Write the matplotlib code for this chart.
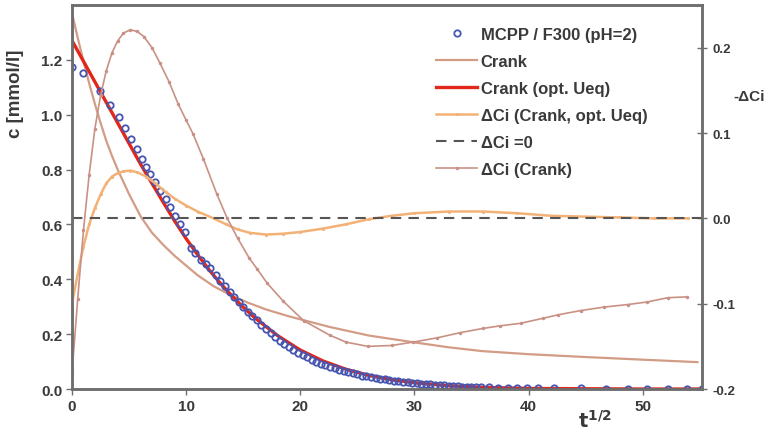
import matplotlib
matplotlib.use("Agg")
import matplotlib.pyplot as plt

plt.rcParams["font.family"] = ["Liberation Sans", "DejaVu Sans"]
plt.rcParams["font.weight"] = "bold"

# measured data MCPP / F300 (pH=2): sqrt(t) and c [mmol/l]
t_meas = [0, 0.97, 2.45, 3.33, 4.1, 4.65, 5.2, 5.7, 6.1, 6.5, 6.85, 7.3, 7.7, 8.2, 8.6, 9.0, 9.5, 9.9,
          10.4, 10.8, 11.3, 11.7, 12.1, 12.6, 13.0, 13.4, 13.8, 14.2, 14.6, 15.0, 15.4, 15.8, 16.2, 16.6,
          17.0, 17.4, 17.8, 18.2, 18.6, 19.0, 19.4, 19.8, 20.2, 20.6, 21.0, 21.4, 21.8, 22.2, 22.6, 23.0,
          23.4, 23.8, 24.2, 24.6, 25.0, 25.4, 25.8, 26.2, 26.6, 27.0, 27.4, 27.8, 28.2, 28.6, 29.0, 29.4,
          29.8, 30.2, 30.6, 31.0, 31.4, 31.8, 32.2, 32.6, 33.0, 33.4, 33.8, 34.2, 34.6, 35.0, 35.4, 35.8,
          36.5, 37.3, 38.2, 39.0, 39.9, 40.8, 42.2, 44.6, 46.8, 48.7, 50.4, 52.2, 53.9, 55.2]
c_meas = [1.175, 1.153, 1.085, 1.037, 0.99, 0.95, 0.912, 0.876, 0.84, 0.81, 0.785, 0.755, 0.723, 0.693,
          0.664, 0.63, 0.6, 0.573, 0.515, 0.495, 0.47, 0.455, 0.44, 0.415, 0.395, 0.375, 0.355, 0.335,
          0.318, 0.3, 0.282, 0.266, 0.25, 0.235, 0.22, 0.205, 0.19, 0.175, 0.163, 0.152, 0.142, 0.132,
          0.123, 0.115, 0.107, 0.1, 0.093, 0.087, 0.081, 0.075, 0.07, 0.065, 0.061, 0.057, 0.053, 0.049,
          0.046, 0.043, 0.04, 0.037, 0.035, 0.032, 0.03, 0.028, 0.026, 0.024, 0.022, 0.021, 0.019, 0.018,
          0.017, 0.015, 0.014, 0.013, 0.012, 0.011, 0.01, 0.009, 0.009, 0.008, 0.007, 0.007, 0.006, 0.005,
          0.004, 0.004, 0.003, 0.003, 0.002, 0.002, 0.001, 0.001, 0.001, 0.001, 0.001, 0.001]

# Crank model
t_crank = [0, 0.5, 1.0, 1.5, 2.0, 2.5, 3.0, 3.5, 4, 5, 6, 7, 8, 9, 10, 11, 12.4, 14, 15.4, 17, 19,
           22.6, 26, 30, 33, 36, 40, 44.8, 50, 54.8]
c_crank = [1.37, 1.28, 1.195, 1.115, 1.04, 0.97, 0.905, 0.85, 0.80, 0.71, 0.63, 0.57, 0.525, 0.485,
           0.45, 0.415, 0.375, 0.34, 0.315, 0.29, 0.265, 0.226, 0.195, 0.17, 0.152, 0.138, 0.127,
           0.117, 0.107, 0.098]

# Crank model with optimised Ueq
t_opt = [0, 1, 2, 3, 4, 5, 6, 7, 8, 9, 10, 11, 12, 13, 14, 15, 16, 18, 20, 22, 24, 26, 28, 30, 33,
         36, 40, 45, 50, 55]
c_opt = [1.27, 1.195, 1.12, 1.045, 0.97, 0.895, 0.82, 0.75, 0.68, 0.612, 0.548, 0.49, 0.435, 0.385,
         0.34, 0.298, 0.26, 0.195, 0.142, 0.102, 0.072, 0.05, 0.034, 0.023, 0.012, 0.006, 0.002, 0.001,
         0.0, 0.0]

# -dCi (Crank, opt. Ueq), right axis
t_dci_opt = [0, 0.5, 1.0, 1.5, 2.0, 2.5, 3.0, 3.5, 4.0, 4.5, 5.1, 5.7, 6.5, 7.3, 8.2, 9.0, 10.0, 11.0,
             12.4, 13.5, 14.5, 15.6, 17.0, 18.5, 20.0, 22.0, 24.0, 26.0, 28.0, 30.0, 33.0, 36.0, 39.0,
             42.0, 45.0, 48.0, 51.0, 54.0]
dci_opt = [-0.100, -0.065, -0.033, -0.007, 0.012, 0.028, 0.041, 0.049, 0.053, 0.055, 0.056, 0.054,
           0.049, 0.041, 0.031, 0.023, 0.015, 0.008, 0.0, -0.007, -0.013, -0.017, -0.019, -0.018,
           -0.016, -0.012, -0.007, -0.001, 0.003, 0.006, 0.008, 0.008, 0.006, 0.003, 0.002, 0.001,
           0.0, 0.0]

# -dCi (Crank), right axis
t_dci = [0, 0.5, 1.0, 1.5, 2.0, 2.5, 3.0, 3.5, 4.0, 4.5, 5.1, 5.7, 6.3, 7.0, 7.7, 8.5, 9.3, 10.0,
         10.6, 11.5, 12.7, 13.6, 14.5, 15.5, 16.2, 17.1, 18.5, 20.3, 22.6, 24.0, 25.9, 28.0, 29.9,
         32.0, 34.0, 36.0, 37.5, 39.3, 41.3, 42.6, 44.6, 46.6, 48.7, 50.4, 52.2, 53.9]
dci = [-0.181, -0.094, -0.014, 0.051, 0.105, 0.144, 0.173, 0.194, 0.208, 0.217, 0.221, 0.219, 0.213,
       0.200, 0.182, 0.160, 0.134, 0.115, 0.099, 0.070, 0.028, 0.0, -0.023, -0.046, -0.059, -0.076,
       -0.097, -0.120, -0.137, -0.145, -0.150, -0.149, -0.145, -0.140, -0.134, -0.129, -0.126,
       -0.123, -0.117, -0.113, -0.108, -0.104, -0.101, -0.098, -0.093, -0.092]

grey = "#6e6e6e"
txt = "#3a3a3a"

fig = plt.figure(figsize=(7.68, 4.35), dpi=100)
ax = fig.add_axes([0.0938, 0.1034, 0.8203, 0.8828])
ax2 = ax.twinx()

h_crank, = ax.plot(t_crank, c_crank, color="#d39c86", lw=1.6, label="Crank")
h_opt, = ax.plot(t_opt, c_opt, color="#e2261a", lw=2.4, label="Crank (opt. Ueq)")
h_meas, = ax.plot(t_meas, c_meas, ls="none", marker="o", ms=4.6, mfc="none", mec="#4656b0",
                  mew=1.3, label="MCPP / F300 (pH=2)")

h_dopt, = ax2.plot(t_dci_opt, dci_opt, color="#f2b277", lw=1.8, marker=".", ms=2.5,
                   label="\u0394Ci (Crank, opt. Ueq)")
h_zero = ax2.axhline(0, color="#555555", lw=1.5, ls=(0, (5, 3.5)), label="\u0394Ci =0")
h_dci, = ax2.plot(t_dci, dci, color="#c99185", lw=1.2, marker=".", ms=3,
                  label="\u0394Ci (Crank)")

ax.set_xlim(0, 55.2)
ax.set_ylim(0, 1.4)
ax2.set_ylim(-0.2, 0.25)
ax.set_xticks([0, 10, 20, 30, 40, 50])
ax.set_yticks([0.0, 0.2, 0.4, 0.6, 0.8, 1.0, 1.2])
ax.set_yticklabels(["0.0", "0.2", "0.4", "0.6", "0.8", "1.0", "1.2"])
ax2.set_yticks([-0.2, -0.1, 0.0, 0.1, 0.2])
ax2.set_yticklabels(["-0.2", "-0.1", "0.0", "0.1", "0.2"])

for a in (ax, ax2):
    for s in a.spines.values():
        s.set_color(grey)
        s.set_linewidth(1.8)
ax.tick_params(axis="both", direction="out", length=4, width=1, color=grey,
               labelsize=11, labelcolor=txt, pad=3)
ax2.tick_params(axis="y", direction="inout", length=7, width=1, color=grey,
                labelsize=9.5, labelcolor=txt, pad=4)

fig.text(0.02, 0.784, "c [mmol/l]", rotation=90, ha="center", va="center",
         fontsize=13.5, color=txt, weight="bold")
fig.text(0.975, 0.777, "-\u0394Ci", ha="center", va="center", fontsize=11, color=txt,
         weight="bold")
fig.text(0.775, 0.032, r"$\mathbf{t^{1/2}}$", ha="center", va="center", fontsize=14, color=txt)

fig.legend(handles=[h_meas, h_crank, h_opt, h_dopt, h_zero, h_dci],
           loc="upper left", bbox_to_anchor=(0.5586, 0.952), frameon=False,
           fontsize=12, handlelength=2.5, handletextpad=0.2, labelspacing=0.72,
           borderaxespad=0, labelcolor=txt)

fig.savefig("out.png", dpi=100)
